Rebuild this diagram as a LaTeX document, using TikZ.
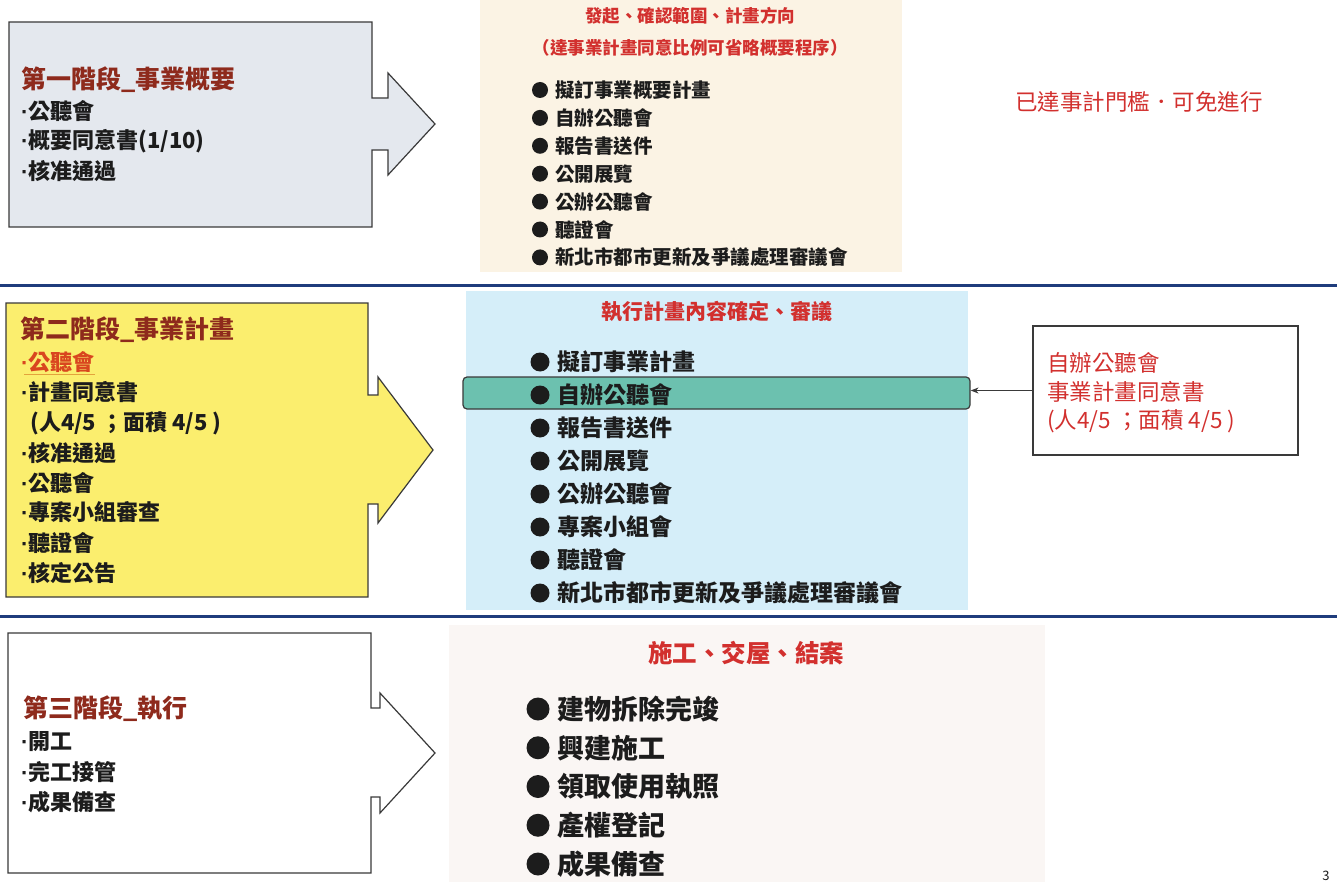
\documentclass[tikz,border=0pt]{standalone}
\usepackage{fontspec}
\setmainfont{Noto Sans CJK TC}
\newfontfamily\latinf{Liberation Sans}
\newcommand{\dotb}{{\latinf\bfseries ·}}
\usetikzlibrary{arrows.meta}
\definecolor{titlered}{HTML}{8E2A1C}
\definecolor{ink}{HTML}{1C1C1C}
\definecolor{hred}{HTML}{D2302E}
\definecolor{s1fill}{HTML}{E4E8EE}
\definecolor{s2fill}{HTML}{FBEE6E}
\definecolor{beige}{HTML}{FBF3E4}
\definecolor{lblue}{HTML}{D5EEF9}
\definecolor{pale}{HTML}{FAF6F4}
\definecolor{tealhl}{HTML}{6CC1AF}
\definecolor{navy}{HTML}{1F3C7C}
\definecolor{orangered}{HTML}{D9461F}
\definecolor{uline}{HTML}{E3A33C}
\definecolor{edge}{HTML}{3A3A3A}
\begin{document}
\begin{tikzpicture}[x=1pt,y=-1pt,
  stagebox/.style={draw=edge, line width=1.2pt},
  ttl/.style={anchor=west, inner sep=0pt, text=titlered, font=\bfseries\fontsize{25}{30}\selectfont},
  itm/.style={anchor=west, inner sep=0pt, text=ink, font=\bfseries\fontsize{22}{26}\selectfont},
  ptl/.style={inner sep=0pt, text=hred, font=\bfseries\fontsize{17.5}{22}\selectfont},
  lione/.style={anchor=west, inner sep=0pt, text=ink, font=\bfseries\fontsize{19.5}{24}\selectfont},
  litwo/.style={anchor=west, inner sep=0pt, text=ink, font=\bfseries\fontsize{23}{28}\selectfont},
  lithree/.style={anchor=west, inner sep=0pt, text=ink, font=\bfseries\fontsize{27}{32}\selectfont},
  note/.style={anchor=west, inner sep=0pt, text=hred, font=\fontsize{22.5}{27}\selectfont},
]
\fill[white] (0,0) rectangle (1337,882);
\useasboundingbox (0,0) rectangle (1337,882);

% panels
\fill[beige] (480,0) rectangle (902,272);
\fill[lblue] (466,291) rectangle (968,610);
\fill[pale] (449,625) rectangle (1045,882);

% separators
\draw[navy, line width=3pt] (0,286) -- (1337,286);
\draw[navy, line width=3pt] (0,616) -- (1337,616);

% stage arrow boxes
\draw[stagebox, fill=s1fill] (9,22) -- (372,22) -- (372,98) -- (388,98) -- (388,73) -- (435,124) -- (388,175) -- (388,150) -- (372,150) -- (372,227) -- (9,227) -- cycle;
\draw[stagebox, fill=s2fill] (6,303) -- (368,303) -- (368,395) -- (378,395) -- (378,377) -- (433,450) -- (378,523) -- (378,504) -- (368,504) -- (368,597) -- (6,597) -- cycle;
\draw[stagebox, fill=white] (8,633) -- (371,633) -- (371,708) -- (380,708) -- (380,693) -- (435,753) -- (380,813) -- (380,797) -- (371,797) -- (371,873) -- (8,873) -- cycle;

% stage 1 text
\node[ttl] (t1) at (21,80) {第一階段\_事業概要};
\node[itm] (t1a) at (21,111) {\dotb 公聽會};
\node[itm] (t1b) at (21,141) {\dotb 概要同意書(1/10)};
\node[itm] (t1c) at (21,171) {\dotb 核准通過};

% stage 2 text
\node[ttl] (t2) at (20,330) {第二階段\_事業計畫};
\node[itm, text=orangered] (t2a) at (21,362) {\dotb 公聽會};
\draw[uline, line width=1.5pt] ([xshift=3pt,yshift=-1.5pt]t2a.south west) -- ([yshift=-1.5pt]t2a.south east);
\node[itm] (t2b) at (21,392) {\dotb 計畫同意書};
\node[itm] (t2c) at (30,423) {(人4/5 ；面積 4/5 )};
\node[itm] (t2d) at (21,453) {\dotb 核准通過};
\node[itm] (t2e) at (21,483) {\dotb 公聽會};
\node[itm] (t2f) at (21,512) {\dotb 專案小組審查};
\node[itm] (t2g) at (21,543) {\dotb 聽證會};
\node[itm] (t2h) at (21,573) {\dotb 核定公告};

% stage 3 text
\node[ttl] (t3) at (23,709) {第三階段\_執行};
\node[itm] (t3a) at (21,742) {\dotb 開工};
\node[itm] (t3b) at (21,772) {\dotb 完工接管};
\node[itm] (t3c) at (21,802) {\dotb 成果備查};

% panel 1
\node[ptl] (h1) at (690,16) {發起、確認範圍、計畫方向};
\node[ptl] (h1b) at (690,48) {（達事業計畫同意比例可省略概要程序）};
\foreach \t [count=\i] in {擬訂事業概要計畫,自辦公聽會,報告書送件,公開展覽,公辦公聽會,聽證會,新北市都市更新及爭議處理審議會}{
  \fill[ink] (540,{90+27.9*(\i-1)}) circle (8pt);
  \node[lione] (pa\i) at (555,{90+27.9*(\i-1)}) {\t};
}
\node[note] (skip) at (1015,102) {已達事計門檻．可免進行};

% panel 2
\node[ptl, font=\bfseries\fontsize{21}{26}\selectfont] (h2) at (717,312) {執行計畫內容確定、審議};
\node[draw=edge, line width=1.2pt, fill=tealhl, rounded corners=4pt, minimum width=507pt, minimum height=32pt, inner sep=0pt] (hl) at (716.5,393) {};
\foreach \t [count=\i] in {擬訂事業計畫,自辦公聽會,報告書送件,公開展覽,公辦公聽會,專案小組會,聽證會,新北市都市更新及爭議處理審議會}{
  \fill[ink] (540,{362+33*(\i-1)}) circle (9.5pt);
  \node[litwo] (pb\i) at (557,{362+33*(\i-1)}) {\t};
}
\node[draw=edge, line width=1.2pt, fill=white, minimum width=265pt, minimum height=129pt, inner sep=0pt] (rb) at (1165.5,390.5) {};
\node[note] (rb1) at (1047,363) {自辦公聽會};
\node[note] (rb2) at (1047,392) {事業計畫同意書};
\node[note] (rb3) at (1047,421) {(人4/5 ；面積 4/5 )};
\draw[edge, line width=1pt, -{Stealth[length=8pt,width=6pt]}] (rb.west) -- (rb.west -| hl.east);

% panel 3
\node[ptl, font=\bfseries\fontsize{24.5}{29}\selectfont] (h3) at (746,653) {施工、交屋、結案};
\foreach \t [count=\i] in {建物拆除完竣,興建施工,領取使用執照,產權登記,成果備查}{
  \fill[ink] (538,{709+38.75*(\i-1)}) circle (11.5pt);
  \node[lithree] (pc\i) at (557,{709+38.75*(\i-1)}) {\t};
}

% page number
\node[anchor=south, inner sep=0pt, text=ink, font=\fontsize{13}{15}\selectfont] (pg) at (1326,881) {3};
\end{tikzpicture}
\end{document}
